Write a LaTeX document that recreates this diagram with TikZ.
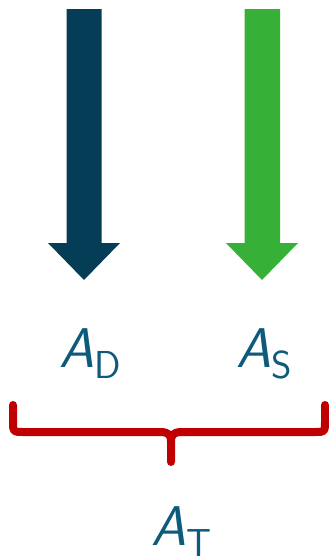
\documentclass[tikz,border=0pt]{standalone}
\usepackage{fontspec}
\definecolor{darkblue}{HTML}{053C56}
\definecolor{arrgreen}{HTML}{36B036}
\definecolor{txtblue}{HTML}{0E5A7A}
\definecolor{bracered}{HTML}{C00000}
\begin{document}
\begin{tikzpicture}[x=1pt,y=-1pt,
  lbl/.style={inner sep=0pt,anchor=base west,text=txtblue,font=\fontsize{56}{60}\selectfont\sffamily},
  brace/.style={draw=bracered,line width=8pt,line cap=round,line join=round}]
\useasboundingbox (0,0) rectangle (329,557);
% arrows
\fill[darkblue] (66.5,9) -- (101.5,9) -- (101.5,243) -- (120,243) -- (84,280) -- (48,243) -- (66.5,243) -- cycle;
\fill[arrgreen] (244.5,9) -- (280,9) -- (280,243) -- (298,243) -- (262,280) -- (226,243) -- (244.5,243) -- cycle;
% labels
\node[lbl] (ad) at (59,367) {\textit{A}\raisebox{-11pt}{\fontsize{39}{42}\selectfont D}};
\node[lbl] (as) at (236,367) {\textit{A}\raisebox{-11pt}{\fontsize{39}{42}\selectfont S}};
\node[lbl] (at) at (151,545) {\textit{A}\raisebox{-11pt}{\fontsize{39}{42}\selectfont T}};
% brace
\coordinate (bl) at (13,405);
\coordinate (br) at (325,405);
\coordinate (bm) at (171,462);
\draw[brace] (bl) -- (13,422) .. controls (13,432) .. (23,432) -- (160,432) .. controls (170,432) and (171,436) .. (171,442) -- (bm);
\draw[brace] (br) -- (325,422) .. controls (325,432) .. (315,432) -- (182,432) .. controls (172,432) and (171,436) .. (171,442);
\end{tikzpicture}
\end{document}
